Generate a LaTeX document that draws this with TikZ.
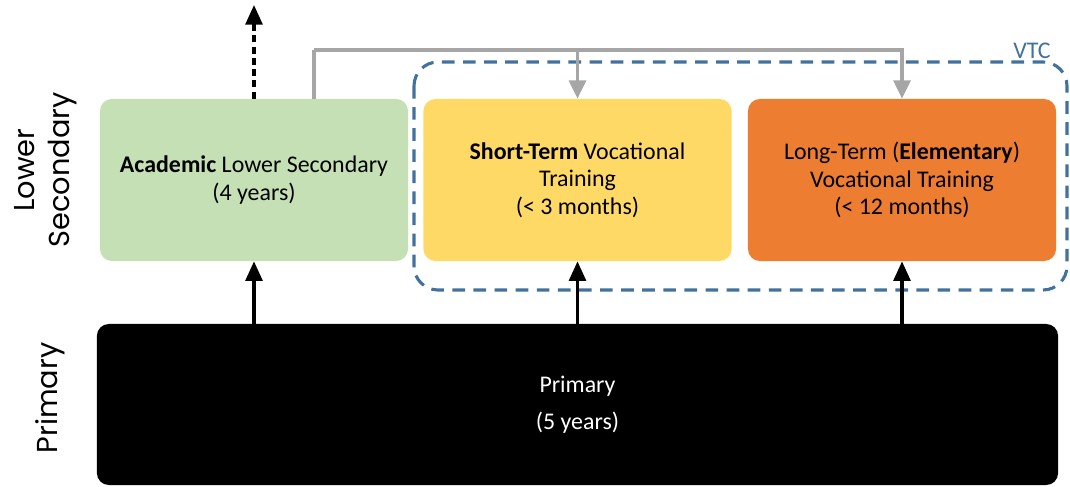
\documentclass[tikz,border=0pt]{standalone}
\usepackage{fontspec}
\setmainfont{Carlito}
\newfontfamily\sidefont{Poppins}
\usetikzlibrary{arrows.meta}
\definecolor{acadgreen}{HTML}{C5E0B4}
\definecolor{shortyellow}{HTML}{FFD966}
\definecolor{longorange}{HTML}{ED7D31}
\definecolor{vtcblue}{HTML}{41719C}
\definecolor{feedgray}{HTML}{A6A6A6}

\begin{document}
\begin{tikzpicture}[x=0.025cm,y=0.025cm,
	stage/.style={rounded corners=0.3cm, minimum width=7.7cm, minimum height=4.05cm,
		align=center, inner sep=0pt, font=\fontsize{17}{19.5}\selectfont},
	upflow/.style={line width=2.4pt, -{Triangle[width=12pt,length=14pt]}},
	feed/.style={draw=feedgray, line width=2.3pt},
	sidelabel/.style={rotate=90, align=center, font=\sidefont\fontsize{20.5}{25}\selectfont}]
	\useasboundingbox (0,0) rectangle (1070,486);
	
	% stages
	\node[stage, fill=black, text=white, minimum width=24.025cm, minimum height=4.025cm] (prim) at (577.5,81.5) {Primary\\[7pt](5 years)};
	\node[stage, fill=acadgreen] (acad) at (254,306) {\textbf{Academic} Lower Secondary\\(4 years)};
	\node[stage, fill=shortyellow] (short) at (577.5,306) {\textbf{Short-Term} Vocational\\Training\\(< 3 months)};
	\node[stage, fill=longorange] (long) at (902,306) {Long-Term (\textbf{Elementary})\\Vocational Training\\(< 12 months)};
	
	% vtc frame
	\draw[vtcblue, line width=2.2pt, dash pattern=on 9pt off 6pt, rounded corners=0.6cm] (414,424) rectangle (1067,196);
	\node[vtcblue, font=\fontsize{17}{19}\selectfont, anchor=south east, inner sep=0pt] (vtc) at (1051,427) {VTC};
	
	% side labels
	\node[sidelabel] (lowerlab) at (46,316) {Lower\\Secondary};
	\node[sidelabel] (primlab) at (50,88) {Primary};
	
	% flows
	\coordinate (exit) at (254,481);
	\coordinate (split) at (314,436);
	\draw[upflow] (prim.north -| acad) -- (acad.south);
	\draw[upflow] (prim.north -| short) -- (short.south);
	\draw[upflow] (prim.north -| long) -- (long.south);
	\draw[upflow, dash pattern=on 5pt off 3pt] (acad.north) -- (exit);
	\draw[feed] (acad.north -| split) -- (split);
	\draw[feed, -{Triangle[width=12pt,length=13pt]}] (split) -| (long.north);
	\draw[feed, -{Triangle[width=12pt,length=13pt]}] (split -| short) -- (short.north);
\end{tikzpicture}
\end{document}
